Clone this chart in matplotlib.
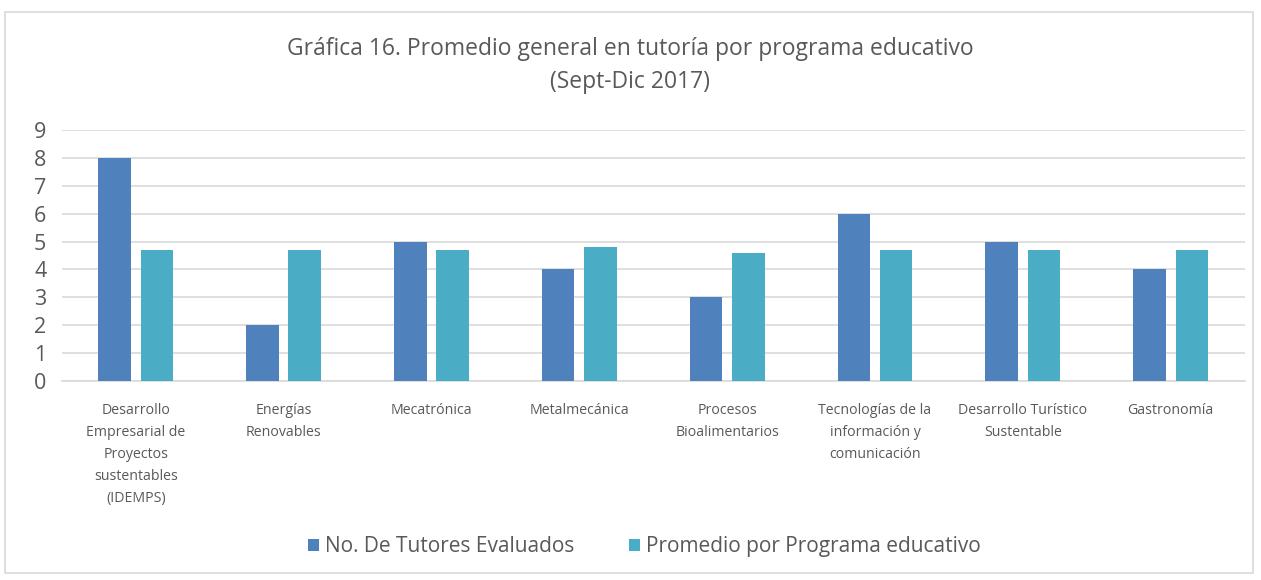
import matplotlib.pyplot as plt
import numpy as np
from matplotlib.patches import Rectangle

plt.rcParams['font.family'] = ['Open Sans', 'DejaVu Sans']

programas = ['Desarrollo\nEmpresarial de\nProyectos\nsustentables\n(IDEMPS)',
             'Energías\nRenovables',
             'Mecatrónica',
             'Metalmecánica',
             'Procesos\nBioalimentarios',
             'Tecnologías de la\ninformación y\ncomunicación',
             'Desarrollo Turístico\nSustentable',
             'Gastronomía']
tutores = [8, 2, 5, 4, 3, 6, 5, 4]
promedio = [4.7, 4.7, 4.7, 4.8, 4.6, 4.7, 4.7, 4.7]
yticks = list(range(0, 10))

gris = '#595959'
azul = '#4F81BD'
turquesa = '#4BACC6'

fig = plt.figure(figsize=(12.61, 5.8), dpi=100)
ax = fig.add_axes([0.049, 0.343, 0.938, 0.433])

x = np.arange(len(programas))
ancho = 0.22
ax.bar(x - 0.143, tutores, ancho, color=azul, label='No. De Tutores Evaluados', zorder=3)
ax.bar(x + 0.143, promedio, ancho, color=turquesa, label='Promedio por Programa educativo', zorder=3)

ax.set_xlim(-0.5, len(programas) - 0.5)
ax.set_ylim(0, 9)
ax.set_yticks(yticks)
ax.yaxis.grid(True, color='#D9D9D9', linewidth=1.2, zorder=0)
ax.tick_params(axis='y', length=0, labelsize=15.5, labelcolor=gris, pad=20)
for t in ax.get_yticklabels():
    t.set_horizontalalignment('left')
ax.set_xticks(x)
ax.set_xticklabels(programas, fontsize=10.2, color=gris, linespacing=1.62, va='top')
ax.tick_params(axis='x', length=0, pad=16)
for s in ['top', 'right', 'left']:
    ax.spines[s].set_visible(False)
ax.spines['bottom'].set_color('#D9D9D9')
ax.spines['bottom'].set_linewidth(1.2)

fig.text(0.5, 0.887, 'Gráfica 16. Promedio general en tutoría por programa educativo\n(Sept-Dic 2017)',
         ha='center', va='center', fontsize=16.5, color=gris, linespacing=1.45)

fig.legend(loc='center', bbox_to_anchor=(0.511, 0.057), ncol=2, frameon=False,
           fontsize=15, labelcolor=gris, handlelength=0.55, handleheight=0.55,
           handletextpad=0.3, columnspacing=2.6)

# borde exterior
fig.patches.append(Rectangle((0.004, 0.012), 0.99, 0.968, transform=fig.transFigure,
                             fill=False, edgecolor='#D9D9D9', linewidth=1.2))

fig.savefig('out.png', dpi=100)
